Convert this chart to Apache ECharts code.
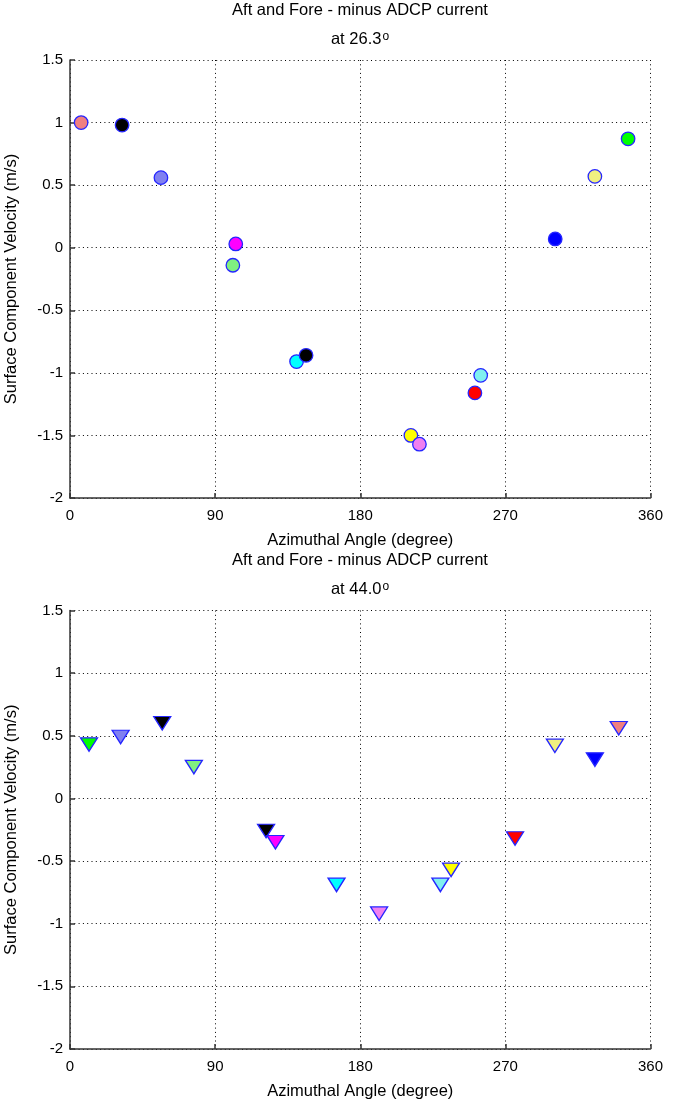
<!DOCTYPE html>
<html><head><meta charset="utf-8">
<script src="https://cdn.jsdelivr.net/npm/echarts@6/dist/echarts.min.js"></script>
<style>html,body{margin:0;padding:0;background:#fff}#c{width:688px;height:1104px}</style>
</head><body><div id="c"></div>
<script>
// ---- data ----
const xTicks = [0, 90, 180, 270, 360];
const yTicks = [-2, -1.5, -1, -0.5, 0, 0.5, 1, 1.5];
const titleText = 'Aft and Fore - minus ADCP current';
const topTilt = '26.3';
const bottomTilt = '44.0';
const xName = 'Azimuthal Angle (degree)';
const yName = 'Surface Component Velocity (m/s)';

const topAngles = [6.9, 32.3, 56.4, 101.0, 102.8, 140.5, 146.4, 211.4, 216.7, 251.1, 254.7, 300.9, 325.5, 346.1];
const topValues = [1.00, 0.98, 0.56, -0.14, 0.03, -0.91, -0.86, -1.50, -1.57, -1.16, -1.02, 0.07, 0.57, 0.87];
const topColorNames = ['salmon', 'black', 'slate', 'ltgreen', 'magenta', 'cyan', 'black', 'yellow', 'violet', 'red', 'ltcyan', 'blue', 'ltyellow', 'green'];

const bottomAngles = [11.8, 31.4, 57.2, 76.8, 121.6, 127.4, 165.3, 191.7, 229.7, 236.3, 276.0, 300.7, 325.5, 340.3];
const bottomValues = [0.43, 0.49, 0.60, 0.25, -0.26, -0.35, -0.69, -0.92, -0.69, -0.57, -0.32, 0.42, 0.31, 0.56];
const bottomColorNames = ['green', 'slate', 'black', 'ltgreen', 'black', 'magenta', 'cyan', 'violet', 'ltcyan', 'yellow', 'red', 'ltyellow', 'blue', 'salmon'];

// ---- styles ----
const palette = {
  salmon: '#f08080', black: '#000000', slate: '#8080f0', ltgreen: '#80f080',
  magenta: '#ff00ff', cyan: '#00ffff', yellow: '#ffff00', violet: '#f080f0',
  red: '#ff0000', ltcyan: '#80f0f0', blue: '#0000ff', ltyellow: '#f0f080', green: '#00ff00'
};
const FONT = 'Liberation Sans';
const EDGE = '#2525ff';

const chart = echarts.init(document.getElementById('c'), null, {renderer: 'canvas'});

function xAxis(gi) {
  return {
    gridIndex: gi, type: 'value',
    min: xTicks[0], max: xTicks[xTicks.length - 1], interval: xTicks[1] - xTicks[0],
    name: xName, nameLocation: 'middle', nameGap: 34,
    nameTextStyle: {fontFamily: FONT, fontSize: 16.5, color: '#000'},
    axisLine: {show: true, onZero: false, lineStyle: {color: '#333', width: 1.5}},
    axisTick: {show: true, inside: true, length: 5, lineStyle: {color: '#333', width: 1.5}},
    axisLabel: {fontFamily: FONT, fontSize: 15, color: '#000', margin: 10, showMinLabel: true, showMaxLabel: true},
    splitLine: {show: true, lineStyle: {color: '#000', width: 1, type: [1, 3.3]}}
  };
}
function yAxis(gi) {
  return {
    gridIndex: gi, type: 'value',
    min: yTicks[0], max: yTicks[yTicks.length - 1], interval: yTicks[1] - yTicks[0],
    name: yName, nameLocation: 'middle', nameGap: 50, nameRotate: 90,
    nameTextStyle: {fontFamily: FONT, fontSize: 16.5, color: '#000'},
    axisLine: {show: true, onZero: false, lineStyle: {color: '#333', width: 1.5}},
    axisTick: {show: true, inside: true, length: 5, lineStyle: {color: '#333', width: 1.5}},
    axisLabel: {fontFamily: FONT, fontSize: 15, color: '#000', margin: 7, showMinLabel: true, showMaxLabel: true},
    splitLine: {show: true, lineStyle: {color: '#000', width: 1, type: [1, 3.3]}}
  };
}
function points(angles, values, names) {
  return angles.map((a, i) => ({value: [a, values[i]], itemStyle: {color: palette[names[i]]}}));
}
function titles(yTop, tilt) {
  return [
    {type: 'text', x: 360, y: yTop, style: {text: titleText, fontFamily: FONT, fontSize: 16.5, fill: '#000', textAlign: 'center', textVerticalAlign: 'middle'}},
    {type: 'text', x: 360, y: yTop + 28.5, style: {
      text: 'at ' + tilt + '{sup|o}', fontFamily: FONT, fontSize: 16.5, fill: '#000', textAlign: 'center', textVerticalAlign: 'middle',
      rich: {sup: {fontFamily: FONT, fontSize: 12, fill: '#000', verticalAlign: 'top', padding: [0, 0, 0, 1]}}
    }}
  ];
}

chart.setOption({
  animation: false,
  backgroundColor: '#fff',
  grid: [
    {left: 70, right: 37.5, top: 60, height: 438, outerBoundsMode: 'none', containLabel: false},
    {left: 70, right: 37.5, top: 610.5, height: 438.5, outerBoundsMode: 'none', containLabel: false}
  ],
  xAxis: [xAxis(0), xAxis(1)],
  yAxis: [yAxis(0), yAxis(1)],
  graphic: titles(10.7, topTilt).concat(titles(560.5, bottomTilt)),
  series: [
    {type: 'scatter', xAxisIndex: 0, yAxisIndex: 0, symbol: 'circle', symbolSize: 13.5,
     itemStyle: {borderColor: EDGE, borderWidth: 1.3, opacity: 1},
     data: points(topAngles, topValues, topColorNames)},
    {type: 'scatter', xAxisIndex: 1, yAxisIndex: 1, symbol: 'triangle', symbolSize: [17, 13.5], symbolRotate: 180,
     itemStyle: {borderColor: EDGE, borderWidth: 1.3, opacity: 1},
     data: points(bottomAngles, bottomValues, bottomColorNames)}
  ]
});
</script></body></html>
